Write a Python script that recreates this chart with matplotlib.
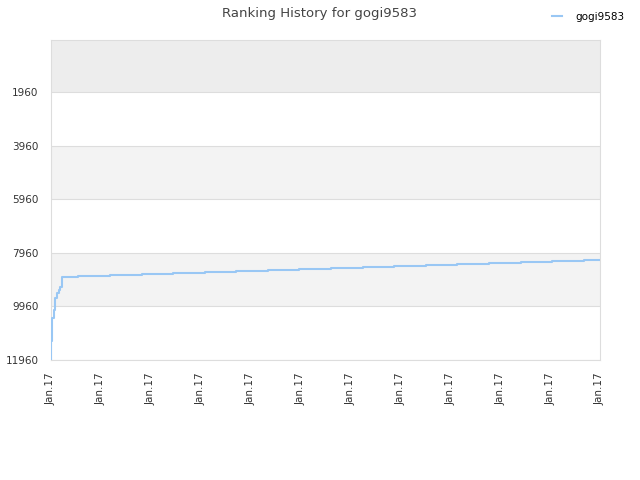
import matplotlib.pyplot as plt

# rank over time (x in tick units, 0..11)
xs = [0.0, 0.01, 0.03, 0.06, 0.09, 0.12, 0.16, 0.19, 0.22, 0.54, 1.18, 1.82, 2.44, 3.09,
      3.71, 4.35, 4.97, 5.61, 6.25, 6.87, 7.51, 8.14, 8.78, 9.42, 10.04, 10.68, 11.0]
ranks = [11960, 11251, 10393, 10094, 9647, 9460, 9348, 9236, 8863, 8826, 8789, 8752,
         8715, 8678, 8641, 8604, 8567, 8530, 8493, 8456, 8419, 8382, 8345, 8308, 8266, 8229, 8229]
yticks = [1960, 3960, 5960, 7960, 9960, 11960]
xlabels = ['Jan.17'] * 12

fig = plt.figure(figsize=(6.4, 4.8), dpi=100)
ax = fig.add_axes([51 / 640, 0.25, 549 / 640, 320 / 480])

# alternating bands
bands = [(0, 1960, '#ededed'), (1960, 3960, 'white'), (3960, 5960, '#f3f3f3'),
         (5960, 7960, 'white'), (7960, 9960, '#f3f3f3'), (9960, 11960, 'white')]
for lo, hi, c in bands:
    ax.axhspan(lo, hi, color=c, zorder=0, lw=0)
for t in yticks:
    ax.axhline(t, color='#dddddd', lw=0.8, zorder=1)

ax.step(xs, ranks, where='post', color='#99c7f4', lw=1.5, zorder=3, label='gogi9583')

ax.set_xlim(0, 11)
ax.set_ylim(11960, 0)
ax.set_yticks(yticks)
ax.set_yticklabels([str(t) for t in yticks])
ax.set_xticks(range(12))
ax.set_xticklabels(xlabels, rotation=90)
ax.tick_params(length=0, labelsize=7.5, colors='#333333')
ax.tick_params(axis='x', pad=9)
ax.tick_params(axis='y', pad=9)
for s in ax.spines.values():
    s.set_color('#dddddd')

fig.suptitle('Ranking History for gogi9583', x=0.5, y=0.985, fontsize=9.5, color='#444444')
fig.legend(loc='upper right', bbox_to_anchor=(0.99, 0.995), frameon=False, fontsize=7.5,
           handlelength=0.9, handletextpad=1.3)

plt.savefig('out.png')
